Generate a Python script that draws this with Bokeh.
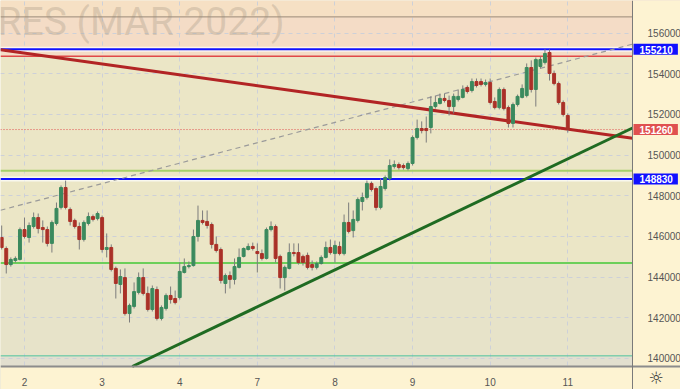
from bokeh.plotting import figure
from bokeh.models import (Range1d, FixedTicker, Span, BoxAnnotation, Label, ColumnDataSource,
                          NumeralTickFormatter)
from bokeh.embed import file_html
from bokeh.resources import INLINE

# ---- data (hourly candles, RTS futures MAR 2022) ----
open_ = [145950, 145410, 144620, 144820, 144870, 146340, 145950, 146490, 146930, 146440,
         146340, 145660, 146640, 147430, 148410, 147330, 146790, 146490, 145850, 146640,
         146980, 146880, 146930, 145360, 145460, 144430, 143640, 143980, 142210, 142560,
         143250, 143980, 143200, 142410, 143390, 141970, 142460, 143100, 142950, 143000,
         144230, 144520, 144570, 146000, 146790, 146740, 146590, 145610, 145360, 143690,
         144080, 143890, 144480, 145020, 145360, 145510, 145260, 145160, 144920, 146340,
         146490, 145020, 143980, 144430, 145210, 145210, 145020, 145070, 144620, 144480,
         144670, 144970, 145460, 145160, 145510, 145160, 146690, 146290, 146790, 147720,
         147920, 148610, 148360, 147430, 148360, 148850, 149440, 149540, 149490, 149340,
         149590, 150870, 151310, 151310, 151360, 152390, 152540, 152790, 152690, 152390,
         152740, 152840, 153330, 153180, 153620, 153620, 153480, 153570, 152640, 152340,
         153230, 152340, 151560, 152490, 152840, 152930, 154310, 153230, 154360, 154560,
         155050, 154020, 153520, 152590, 151950]
close = [145460, 144620, 144870, 144920, 146340, 146000, 146540, 146930, 146390, 146340,
         145660, 146690, 147380, 148410, 147430, 146740, 146490, 145850, 146690, 146980,
         146840, 147130, 145360, 145460, 144380, 143690, 144030, 142210, 142610, 143290,
         143980, 143200, 142410, 143440, 141970, 142510, 143100, 142900, 142750, 144280,
         144520, 144570, 146000, 146790, 146690, 146540, 145610, 145310, 143840, 144080,
         143890, 144520, 144970, 145410, 145510, 145410, 145160, 144920, 146340, 146490,
         144920, 143980, 144480, 145210, 145160, 144720, 144720, 144480, 144480, 144670,
         144970, 145460, 145210, 145560, 145160, 146690, 146250, 146840, 147820, 147920,
         148610, 148310, 147430, 148460, 148900, 149490, 149540, 149390, 149390, 149590,
         150870, 151310, 151210, 151210, 152390, 152590, 152790, 152690, 152390, 152890,
         152890, 153230, 153130, 153620, 153430, 153480, 153570, 152590, 152340, 153230,
         152290, 151560, 152490, 152890, 153280, 154310, 153230, 154700, 154700, 155000,
         154020, 153520, 152590, 152000, 151260]
high = [146540, 145510, 144970, 145020, 146440, 146930, 146690, 147180, 147130, 146790,
        146490, 146790, 147670, 148510, 148750, 147430, 146880, 146690, 146790, 147180,
        147080, 147230, 147030, 146150, 145610, 144520, 144380, 144430, 142700, 143740,
        144230, 144430, 143540, 143590, 143540, 142610, 143200, 143540, 143340, 144720,
        144920, 144770, 146340, 147520, 147280, 147280, 146690, 146000, 145460, 144180,
        144280, 144920, 145410, 145460, 145660, 145700, 145660, 145360, 146440, 146740,
        146590, 145110, 144570, 145660, 145660, 145660, 145110, 145210, 144820, 144770,
        145070, 145750, 145850, 145800, 145750, 147080, 147670, 147280, 147920, 148160,
        148750, 148700, 148460, 148850, 149000, 149790, 149740, 149640, 149590, 149690,
        150970, 151750, 151660, 151900, 152890, 152930, 153030, 153030, 152930, 153030,
        153230, 153430, 153430, 153770, 153770, 153770, 153720, 153770, 152840, 153330,
        153330, 152440, 152590, 152980, 153480, 154510, 154660, 154800, 154850, 155210,
        155200, 154160, 153620, 152690, 152050]
low = [145360, 144180, 144520, 144720, 144820, 145900, 145700, 146390, 146150, 145700,
       145510, 145210, 146540, 147330, 147330, 146540, 146390, 145360, 145750, 146540,
       146740, 146790, 145210, 144970, 144280, 142950, 143200, 142110, 141770, 142460,
       143150, 143100, 142310, 142310, 141870, 141870, 142360, 142700, 142660, 142900,
       144180, 144430, 144520, 145750, 146590, 146390, 145410, 145210, 143690, 143200,
       143440, 143640, 144430, 144970, 145310, 145310, 144230, 144820, 144870, 146250,
       144720, 143440, 143340, 144380, 145020, 144620, 144570, 144380, 144330, 144380,
       144620, 144920, 145110, 144720, 145070, 145070, 146150, 145950, 146690, 147280,
       147820, 148210, 147280, 147330, 148260, 148750, 149340, 149290, 149290, 149250,
       149490, 150770, 151070, 150620, 151070, 152290, 152490, 152590, 151950, 152050,
       152640, 152790, 153030, 153080, 153330, 153380, 153380, 152490, 152250, 152250,
       152200, 151360, 151360, 152390, 152790, 152840, 153080, 152390, 154260, 154460,
       153670, 153430, 152490, 151900, 151110]

day_start = [5, 22, 39, 56, 73, 90, 107, 124]
day_labels = ["2", "3", "4", "7", "8", "9", "10", "11"]
price_ticks = [140000, 142000, 144000, 146000, 148000, 150000, 152000, 154000, 156000]

resist_top = 156800
resist_blue = 155210
resist_red = 154860
last_price = 151260
support_lightgreen = 149230
support_blue = 148830
support_green = 144700
support_teal = 140130

red_trend_x = [-0.26, 138.18]
red_trend_y = [155180, 150830]
green_trend_x = [28.6, 138.18]
green_trend_y = [139606, 151336]
dash_trend_x = [-0.26, 138.18]
dash_trend_y = [147290, 155460]

# scale geometry: the price scale and time scale sit inside the canvas
x_lo, x_axis, x_hi = -0.26, 138.18, 148.69
y_lo, y_axis, y_hi = 138475, 139606, 157606
gear_x, gear_y = 143.4, 139065

# ---- figure ----
p = figure(width=680, height=389, x_range=Range1d(x_lo, x_hi), y_range=Range1d(y_lo, y_hi),
           output_backend="svg", toolbar_location=None, y_axis_location="right",
           min_border_left=0, min_border_top=0, min_border_right=0, min_border_bottom=0)
p.background_fill_color = "#ebe6c6"
p.border_fill_color = "#fdf3d2"
p.outline_line_color = None

# zones
p.add_layout(BoxAnnotation(bottom=resist_red, fill_color="#f4dcc6", fill_alpha=1, line_color=None, level="image"))
p.add_layout(BoxAnnotation(bottom=resist_top, fill_color="#f6e0c4", fill_alpha=1, line_color=None, level="image"))
p.add_layout(BoxAnnotation(top=support_green, fill_color="#e7e3c9", fill_alpha=1, line_color=None, level="image"))
p.add_layout(BoxAnnotation(top=support_teal, fill_color="#e2dfcf", fill_alpha=1, line_color=None, level="image"))

# watermark
p.add_layout(Label(x=x_lo, y=155885, x_offset=-3, y_offset=13, text="RES (MAR 2022)", text_font="Roboto",
                   text_font_size="39px", text_color="#a89a86", text_alpha=0.35,
                   text_baseline="alphabetic", text_align="left", level="underlay"))

# grids
for g in (p.xgrid, p.ygrid):
    g.grid_line_color = "#cdd0d8"
    g.grid_line_dash = "4 4"
    g.grid_line_width = 1

# horizontal levels
def hline(loc, color, width, dash="solid", alpha=1.0):
    p.add_layout(Span(location=loc, dimension="width", line_color=color, line_width=width,
                      line_dash=dash, line_alpha=alpha, level="underlay"))

hline(resist_top, "#9b8b78", 1)
hline(resist_red, "#e04848", 1.5)
hline(resist_blue, "#ffffff", 5, alpha=0.7)
hline(resist_blue, "#1010ff", 2)
hline(support_lightgreen, "#a6cf6a", 2)
hline(support_blue, "#ffffff", 5, alpha=0.7)
hline(support_blue, "#1010ff", 2)
hline(support_green, "#6ccf5a", 2)
hline(support_teal, "#4fc49e", 1)
hline(last_price, "#e05050", 1, dash="1 2")

# scale backgrounds (cover grid and levels outside the chart pane)
p.add_layout(BoxAnnotation(left=x_axis, fill_color="#fdf3d2", fill_alpha=1, line_color=None, level="underlay"))
p.add_layout(BoxAnnotation(top=y_axis, fill_color="#fdf3d2", fill_alpha=1, line_color=None, level="underlay"))

# axes
p.yaxis.fixed_location = x_axis
p.yaxis.ticker = FixedTicker(ticks=price_ticks)
p.yaxis.formatter = NumeralTickFormatter(format="0")
p.yaxis.major_tick_line_color = None
p.yaxis.minor_tick_line_color = None
p.yaxis.axis_line_color = "#7a7a7a"
p.yaxis.axis_line_width = 1
p.yaxis.major_label_standoff = 9
p.yaxis.major_label_text_font = "Liberation Sans"
p.yaxis.major_label_text_font_size = "10px"
p.yaxis.major_label_text_color = "#555555"

p.xaxis.fixed_location = y_axis
p.xaxis.ticker = FixedTicker(ticks=day_start)
p.xaxis.major_label_overrides = {d: l for d, l in zip(day_start, day_labels)}
p.xaxis.major_tick_line_color = None
p.xaxis.minor_tick_line_color = None
p.xaxis.axis_line_color = "#8c8c8c"
p.xaxis.axis_line_width = 2
p.xaxis.major_label_standoff = 5
p.xaxis.major_label_text_font = "Liberation Sans"
p.xaxis.major_label_text_font_size = "10px"
p.xaxis.major_label_text_color = "#555555"

# trend lines
p.line(dash_trend_x, dash_trend_y, line_color="#9a9a9a", line_width=1.2, line_dash="5 4")
p.line(red_trend_x, red_trend_y, line_color="#b22424", line_width=3)
p.line(green_trend_x, green_trend_y, line_color="#1f6b22", line_width=3)

# candles
idx = list(range(len(open_)))
colors = ["#3b8a5e" if c >= o else "#aa3128" for o, c in zip(open_, close)]
src = ColumnDataSource(dict(x=idx, o=open_, c=close, h=high, l=low, col=colors))
p.segment(x0="x", y0="h", x1="x", y1="l", source=src, line_color="#7c7c7c", line_width=1)
p.vbar(x="x", width=0.64, top="o", bottom="c", source=src, fill_color="col", line_color="col", line_width=1)

# price badges on the price scale
def badge(y, txt, bg):
    p.add_layout(Label(x=x_axis, y=y, x_offset=1, text=txt, text_font="Liberation Sans",
                       text_font_size="10px", text_font_style="bold", text_color="white",
                       text_align="left", text_baseline="middle", background_fill_color=bg,
                       background_fill_alpha=1, padding=dict(left=6, right=5, top=2, bottom=1)))

badge(resist_blue, "155210", "#1010ff")
badge(support_blue, "148830", "#1010ff")
badge(last_price, "151260", "#e05050")

# settings icon in the scale corner
p.add_layout(Label(x=gear_x, y=gear_y, text="☼", text_font="DejaVu Sans",
                   text_font_size="17px", text_color="#333333", text_align="center",
                   text_baseline="middle"))

open("out.html", "w").write(file_html(p, INLINE))
